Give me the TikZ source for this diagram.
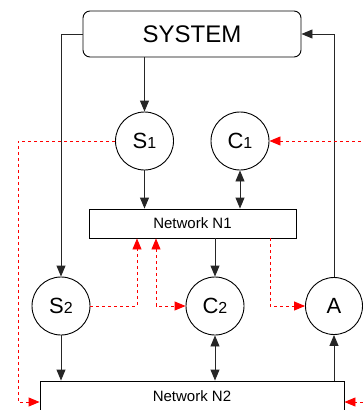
\documentclass[tikz,border=0pt]{standalone}
\usepackage{fontspec}
\setmainfont{Liberation Sans}
\usetikzlibrary{arrows.meta}

\tikzset{
  ln/.style={line width=0.9pt, draw=black!85},
  arw/.style={-{Triangle[length=11pt,width=9pt]}},
  arws/.style={{Triangle[length=11pt,width=9pt]}-{Triangle[length=11pt,width=9pt]}},
  rdash/.style={line width=0.9pt, draw=red, dash pattern=on 3pt off 3pt},
  rarw/.style={-{Triangle[length=11pt,width=9pt,fill=red]}},
  rarws/.style={{Triangle[length=11pt,width=9pt,fill=red]}-{Triangle[length=11pt,width=9pt,fill=red]}},
  circ/.style={circle, draw, line width=0.9pt, minimum size=58pt, inner sep=0pt},
  netbox/.style={rectangle, draw, line width=0.9pt, inner sep=0pt, font=\fontsize{15}{18}\selectfont},
}
\newcommand{\clab}[2]{{\fontsize{22}{26}\selectfont #1}{\fontsize{16}{18}\selectfont #2}}

\begin{document}
\begin{tikzpicture}[x=1pt,y=-1pt]
\useasboundingbox (0,0) rectangle (363,410);
\clip (0,0) rectangle (363,410);

% blocks
\node[draw, line width=0.9pt, rounded corners=7pt, minimum width=218pt, minimum height=46pt,
      inner sep=0pt, font=\fontsize{24}{28}\selectfont] (sys) at (192,34) {SYSTEM};
\node[circ] (s1) at (144.5,141) {\clab{S}{1}};
\node[circ] (c1) at (240,141) {\clab{C}{1}};
\node[netbox, minimum width=207pt, minimum height=29pt] (n1) at (192.5,223.5) {Network N1};
\node[circ] (s2) at (61,306) {\clab{S}{2}};
\node[circ] (c2) at (215,306) {\clab{C}{2}};
\node[circ, minimum size=57pt] (a) at (334,306) {{\fontsize{22}{26}\selectfont A}};
\node[netbox, minimum width=304pt, minimum height=34pt, text depth=4pt] (n2) at (192,398) {Network N2};

% helper positions for the dashed links
\coordinate (xa) at (137,0);
\coordinate (xb) at (156,0);
\coordinate (xc) at (270,0);
\coordinate (lx) at (18,0);
\coordinate (rx) at (380,0);
\coordinate (ly) at (0,402);

% solid links
\draw[ln,arw] (sys.west) -| (s2.north);
\draw[ln,arw] (a.north) |- (sys.east);
\draw[ln,arw] (sys.south -| s1) -- (s1.north);
\draw[ln,arw] (s1.south) -- (s1.south |- n1.north);
\draw[ln,arws] (c1.south) -- (c1.south |- n1.north);
\draw[ln,arw] (n1.south -| c2) -- (c2.north);
\draw[ln,arw] (s2.south) -- (s2.south |- n2.north);
\draw[ln,arws] (c2.south) -- (c2.south |- n2.north);
\draw[ln,arw] (n2.north -| a) -- (a.south);

% dashed links
\draw[rdash,rarw] (s2.east) -| (xa |- n1.south);
\draw[rdash,rarws] (xb |- n1.south) |- (c2.west);
\draw[rdash,rarw] (xc |- n1.south) |- (a.west);
\draw[rdash,rarw] (s1.west) -| (lx |- ly) -- (n2.west |- ly);
\draw[rdash,rarws] (c1.east) -| (rx |- ly) -- (n2.east |- ly);
\end{tikzpicture}
\end{document}
